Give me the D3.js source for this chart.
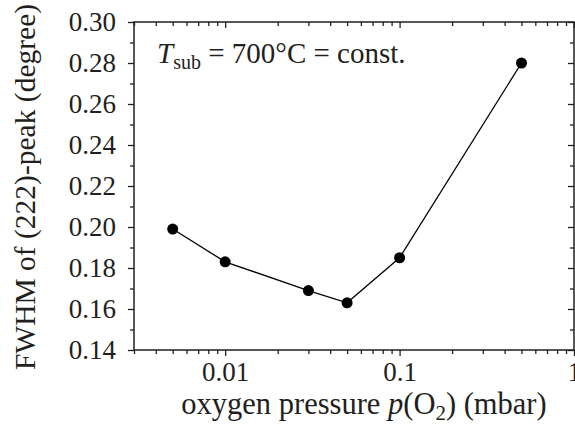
<!DOCTYPE html>
<html>
<head>
<meta charset="utf-8">
<script src="https://cdn.jsdelivr.net/npm/d3@7"></script>
<style>
    body { margin: 0; background: #fff; }
    svg { display: block; }
</style>
</head>
<body>
<svg id="chart" width="575" height="426"></svg>
<script>
const pressures = [0.005, 0.01, 0.03, 0.05, 0.1, 0.5];
const fwhm = [0.199, 0.183, 0.169, 0.163, 0.185, 0.280];
const xMajorTicks = [0.01, 0.1, 1];
const yMajorTicks = [0.14, 0.16, 0.18, 0.20, 0.22, 0.24, 0.26, 0.28, 0.30];

const INK = "#231f20";
const SERIF = "Liberation Serif";
const TICKFONT = 27;
const MAJOR = 6, MINOR = 4;
const plot = {left: 134, right: 574, top: 22, bottom: 350};

const svg = d3.select("#chart");

const x = d3.scaleLog().domain([0.003, 1]).range([plot.left, plot.right]);
const y = d3.scaleLinear().domain([0.14, 0.30]).range([plot.bottom, plot.top]);

// minor ticks on the log axis: 2..9 of each decade
let xMinor = [];
for (let dec of [0.001, 0.01, 0.1]) {
    for (let m = 2; m <= 9; m++) {
        let v = m * dec;
        if (v >= 0.003 && v <= 1) xMinor.push(v);
    }
}
let yMinor = d3.range(0.15, 0.30, 0.02);

function styleAxis(g) {
    g.attr("font-family", null).attr("font-size", null);
    g.select(".domain").remove();
    g.selectAll("line").attr("stroke", INK).attr("stroke-width", 1.3);
    g.selectAll("text")
        .attr("fill", INK)
        .style("font-family", SERIF)
        .style("font-size", TICKFONT + "px");
}

// bottom: outward ticks with labels
svg.append("g")
    .attr("transform", "translate(0," + plot.bottom + ")")
    .call(d3.axisBottom(x).tickValues(xMajorTicks).tickSize(MAJOR).tickPadding(6)
        .tickFormat(d => d3.format("~g")(d)))
    .call(styleAxis);
svg.append("g")
    .attr("transform", "translate(0," + plot.bottom + ")")
    .call(d3.axisBottom(x).tickValues(xMinor).tickSize(MINOR).tickFormat(""))
    .call(styleAxis);

// top: inward ticks
svg.append("g")
    .attr("transform", "translate(0," + plot.top + ")")
    .call(d3.axisBottom(x).tickValues(xMajorTicks).tickSize(MAJOR).tickFormat(""))
    .call(styleAxis);
svg.append("g")
    .attr("transform", "translate(0," + plot.top + ")")
    .call(d3.axisBottom(x).tickValues(xMinor).tickSize(MINOR).tickFormat(""))
    .call(styleAxis);

// left: outward ticks with labels
svg.append("g")
    .attr("transform", "translate(" + plot.left + ",0)")
    .call(d3.axisLeft(y).tickValues(yMajorTicks).tickSize(MAJOR).tickPadding(12)
        .tickFormat(d3.format(".2f")))
    .call(styleAxis);
svg.append("g")
    .attr("transform", "translate(" + plot.left + ",0)")
    .call(d3.axisLeft(y).tickValues(yMinor).tickSize(MINOR).tickFormat(""))
    .call(styleAxis);

// right: inward ticks
svg.append("g")
    .attr("transform", "translate(" + plot.right + ",0)")
    .call(d3.axisLeft(y).tickValues(yMajorTicks).tickSize(MAJOR).tickFormat(""))
    .call(styleAxis);
svg.append("g")
    .attr("transform", "translate(" + plot.right + ",0)")
    .call(d3.axisLeft(y).tickValues(yMinor).tickSize(MINOR).tickFormat(""))
    .call(styleAxis);

// frame
svg.append("rect")
    .attr("x", plot.left).attr("y", plot.top)
    .attr("width", plot.right - plot.left).attr("height", plot.bottom - plot.top)
    .attr("fill", "none").attr("stroke", INK).attr("stroke-width", 1.5);

// data
const pts = pressures.map((p, i) => [p, fwhm[i]]);
svg.append("path")
    .datum(pts)
    .attr("d", d3.line().x(d => x(d[0])).y(d => y(d[1])))
    .attr("fill", "none").attr("stroke", "#000").attr("stroke-width", 1.3);
svg.selectAll("circle.pt")
    .data(pts)
    .enter().append("circle")
    .attr("class", "pt")
    .attr("cx", d => x(d[0])).attr("cy", d => y(d[1]))
    .attr("r", 5.5).attr("fill", "#000");

// annotation
let ann = svg.append("text").attr("x", 157).attr("y", 63)
    .attr("fill", INK)
    .style("font-family", SERIF).style("font-size", "29px");
ann.append("tspan").style("font-style", "italic").text("T");
ann.append("tspan").attr("dy", 6).style("font-size", "20px").text("sub");
ann.append("tspan").attr("dy", -6).text(" = 700°C = const.");

// axis titles
let xt = svg.append("text").attr("x", 364).attr("y", 414)
    .attr("text-anchor", "middle").attr("fill", INK)
    .style("font-family", SERIF).style("font-size", "30.5px");
xt.append("tspan").text("oxygen pressure ");
xt.append("tspan").style("font-style", "italic").text("p");
xt.append("tspan").text("(O");
xt.append("tspan").attr("dy", 6).style("font-size", "21px").text("2");
xt.append("tspan").attr("dy", -6).text(") (mbar)");

svg.append("text")
    .attr("transform", "translate(35,187) rotate(-90)")
    .attr("text-anchor", "middle")
    .attr("fill", INK)
    .style("font-family", SERIF)
    .style("font-size", "29.5px")
    .text("FWHM of (222)-peak (degree)");
</script>
</body>
</html>
